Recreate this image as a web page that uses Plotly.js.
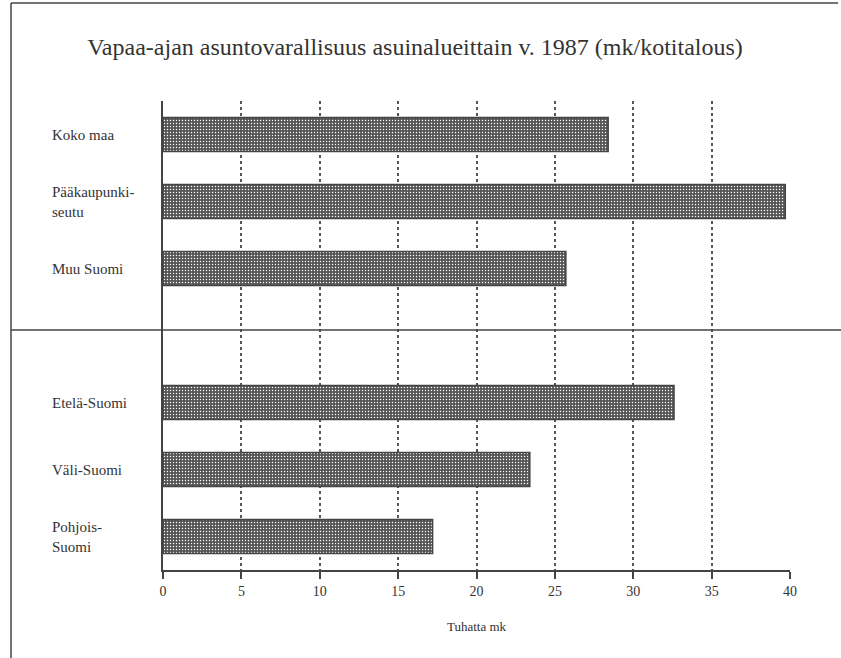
<!DOCTYPE html>
<html>
<head>
<meta charset="utf-8">
<script src="https://cdn.plot.ly/plotly-3.0.1.min.js"></script>
<style>
  html, body { margin: 0; padding: 0; background: #fff; }
  #chart { width: 841px; height: 658px; }
</style>
</head>
<body>
<div id="chart"></div>
<script>
// Regions, top to bottom; the blank entry separates the two groups.
const regions = ['Koko maa', 'Pääkaupunki-<br>seutu', 'Muu Suomi',
                 'Etelä-Suomi', 'Väli-Suomi', 'Pohjois-<br>Suomi'];
const values = [28.4, 39.7, 25.7, 32.6, 23.4, 17.2];   // thousand mk per household
const categoryOrder = ['Koko maa', 'Pääkaupunki-<br>seutu', 'Muu Suomi', ' ',
                       'Etelä-Suomi', 'Väli-Suomi', 'Pohjois-<br>Suomi'];
const xTicks = [0, 5, 10, 15, 20, 25, 30, 35, 40];

const W = 841, H = 658;
const M = { l: 163, r: 51, t: 101, b: 88 };
const plotW = W - M.l - M.r, plotH = H - M.t - M.b;
// pixel -> paper coordinate helpers for frame lines
const px = v => (v - M.l) / plotW;
const py = v => (H - M.b - v) / plotH;

const serif = 'Liberation Serif';
const ink = '#333';
const lineCol = '#444';

const trace = {
  type: 'bar',
  orientation: 'h',
  x: values,
  y: regions,
  width: 0.51,
  marker: {
    color: '#555555',
    line: { color: lineCol, width: 1.5 },
    pattern: { shape: '.', size: 3, solidity: 0.18, fgcolor: '#ffffff', bgcolor: '#555555', fillmode: 'replace' }
  },
  hoverinfo: 'x+y'
};

const labelAnnotations = regions.map(r => ({
  xref: 'paper', yref: 'y',
  x: px(50), y: r,
  xanchor: 'left', yanchor: 'middle', align: 'left',
  text: r, showarrow: false,
  font: { family: serif, size: 15, color: ink }
}));

const layout = {
  width: W, height: H,
  margin: M,
  paper_bgcolor: '#fff',
  plot_bgcolor: '#fff',
  showlegend: false,
  font: { family: serif, color: ink },
  title: {
    text: 'Vapaa-ajan asuntovarallisuus asuinalueittain v. 1987 (mk/kotitalous)',
    font: { family: serif, size: 24, color: ink },
    x: 415 / W, xanchor: 'center',
    y: 1 - 47 / H, yanchor: 'middle', yref: 'container'
  },
  xaxis: {
    range: [0, 40],
    tickvals: xTicks,
    ticktext: xTicks.map(String),
    ticks: 'outside', ticklen: 7, tickwidth: 2, tickcolor: lineCol,
    showline: true, linecolor: lineCol, linewidth: 2,
    showgrid: true, gridcolor: '#555', gridwidth: 2, griddash: 'dot',
    zeroline: false,
    tickfont: { family: serif, size: 14, color: ink },
    title: { text: 'Tuhatta mk', font: { family: serif, size: 13, color: ink }, standoff: 24 },
    fixedrange: true
  },
  yaxis: {
    type: 'category',
    categoryorder: 'array',
    categoryarray: categoryOrder,
    range: [6.5, -0.5],
    showticklabels: false,
    ticks: '',
    showgrid: false, zeroline: false,
    showline: true, linecolor: lineCol, linewidth: 2,
    fixedrange: true
  },
  annotations: labelAnnotations,
  shapes: [
    // outer frame: left and top edges
    { type: 'line', xref: 'paper', yref: 'paper', x0: px(11), x1: px(11), y0: py(3), y1: py(H),
      line: { color: lineCol, width: 1.5 } },
    { type: 'line', xref: 'paper', yref: 'paper', x0: px(11), x1: px(838), y0: py(3), y1: py(3),
      line: { color: lineCol, width: 1.5 } },
    // divider between whole-country and regional groups
    { type: 'line', xref: 'paper', yref: 'paper', x0: px(11), x1: px(W), y0: py(330), y1: py(330),
      line: { color: lineCol, width: 1.5 } }
  ]
};

Plotly.newPlot('chart', [trace], layout, { displayModeBar: false, staticPlot: true });
</script>
</body>
</html>
